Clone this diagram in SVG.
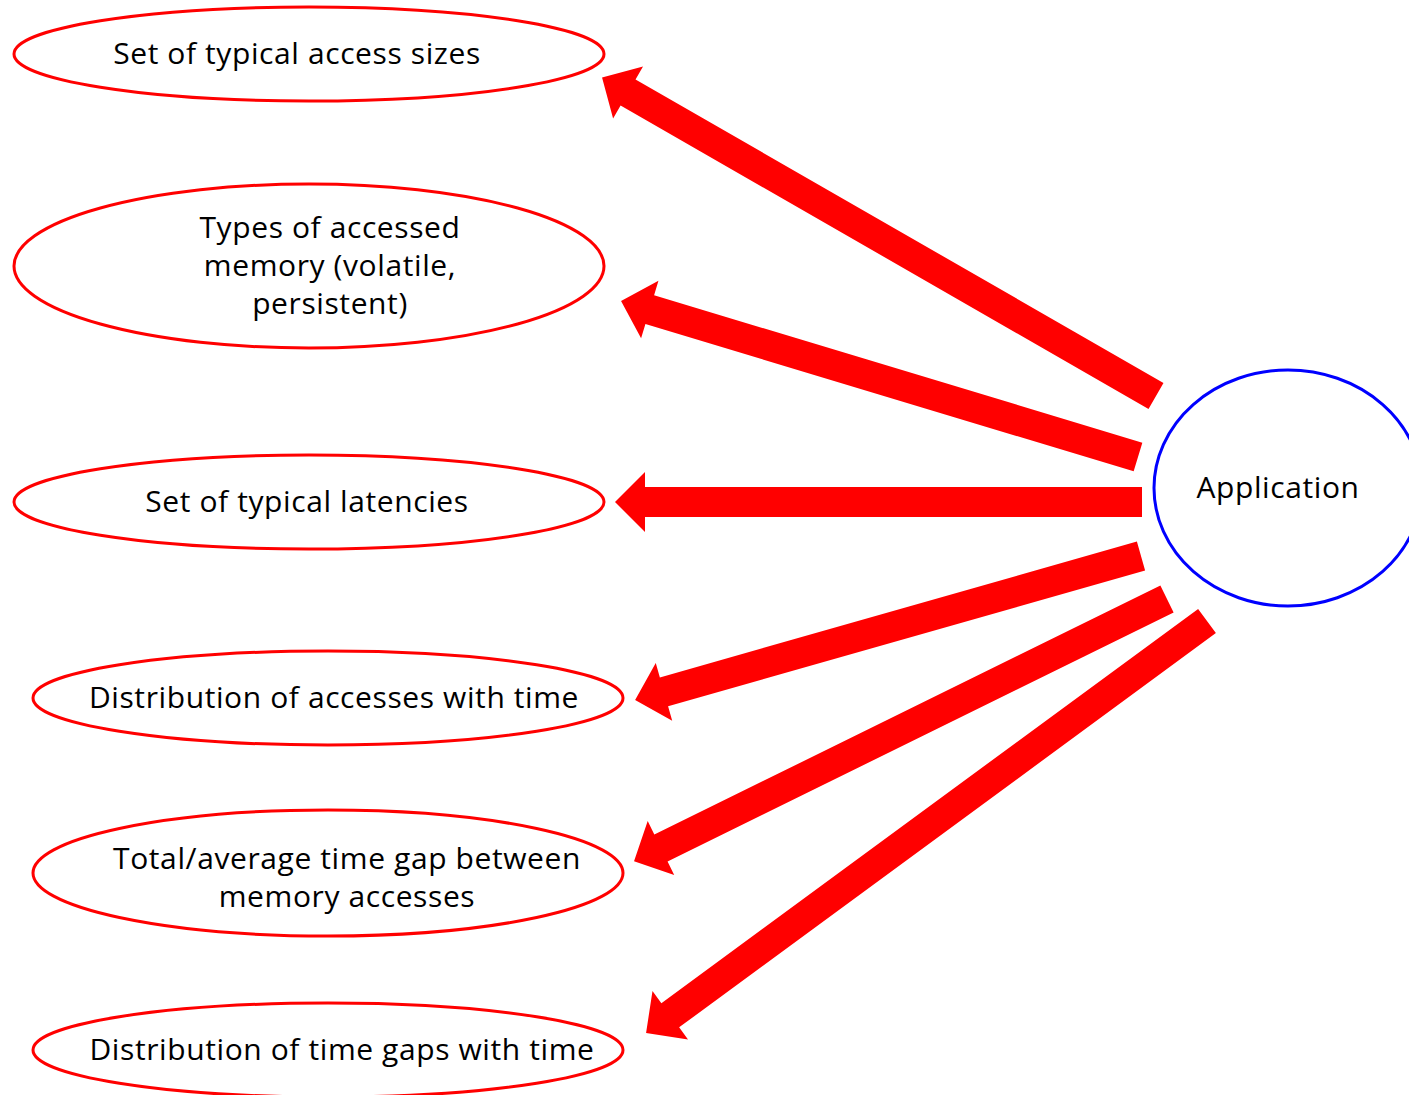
<svg xmlns="http://www.w3.org/2000/svg" width="1409" height="1095" viewBox="0 0 1409 1095">
<style>
.n{fill:#fff;stroke:#f00;stroke-width:3}
.app{fill:#fff;stroke:#00f;stroke-width:3}
.t{font-family:"Open Sans","Noto Sans",sans-serif;font-size:30px;letter-spacing:0.6px;fill:#000;text-anchor:middle}
.a{fill:#f00}
</style>
<rect width="1409" height="1095" fill="#fff"/>
<g id="connectors">
<polygon class="a" transform="translate(1156,396) rotate(209.9)" points="0,-15 609,-15 609,-30 639,0 609,30 609,15 0,15"/>
<polygon class="a" transform="translate(1138,457) rotate(196.8)" points="0,-15 510,-15 510,-30 540,0 510,30 510,15 0,15"/>
<polygon class="a" transform="translate(1142,502) rotate(180)" points="0,-15 497,-15 497,-30 527,0 497,30 497,15 0,15"/>
<polygon class="a" transform="translate(1141,556) rotate(164.1)" points="0,-15 496,-15 496,-30 526,0 496,30 496,15 0,15"/>
<polygon class="a" transform="translate(1167,599) rotate(153.8)" points="0,-15 564,-15 564,-30 594,0 564,30 564,15 0,15"/>
<polygon class="a" transform="translate(1207,621) rotate(143.7)" points="0,-15 666,-15 666,-30 696,0 666,30 666,15 0,15"/>
</g>
<g id="n1"><ellipse class="n" cx="309" cy="54" rx="295" ry="47"/><text class="t" x="297" y="64">Set of typical access sizes</text></g>
<g id="n2"><ellipse class="n" cx="309" cy="266" rx="295" ry="82"/><text class="t" x="330" y="238">Types of accessed</text><text class="t" x="330" y="276">memory (volatile,</text><text class="t" x="330" y="314">persistent)</text></g>
<g id="n3"><ellipse class="n" cx="309" cy="502" rx="295" ry="47"/><text class="t" x="307" y="512">Set of typical latencies</text></g>
<g id="n4"><ellipse class="n" cx="328" cy="698" rx="295" ry="47"/><text class="t" x="334" y="708">Distribution of accesses with time</text></g>
<g id="n5"><ellipse class="n" cx="328" cy="873" rx="295" ry="63"/><text class="t" x="347" y="869">Total/average time gap between</text><text class="t" x="347" y="907">memory accesses</text></g>
<g id="n6"><ellipse class="n" cx="328" cy="1050" rx="295" ry="47"/><text class="t" x="342" y="1060">Distribution of time gaps with time</text></g>
<g id="app"><ellipse class="app" cx="1288" cy="488" rx="134" ry="118"/><text class="t" x="1278" y="498">Application</text></g>
</svg>
